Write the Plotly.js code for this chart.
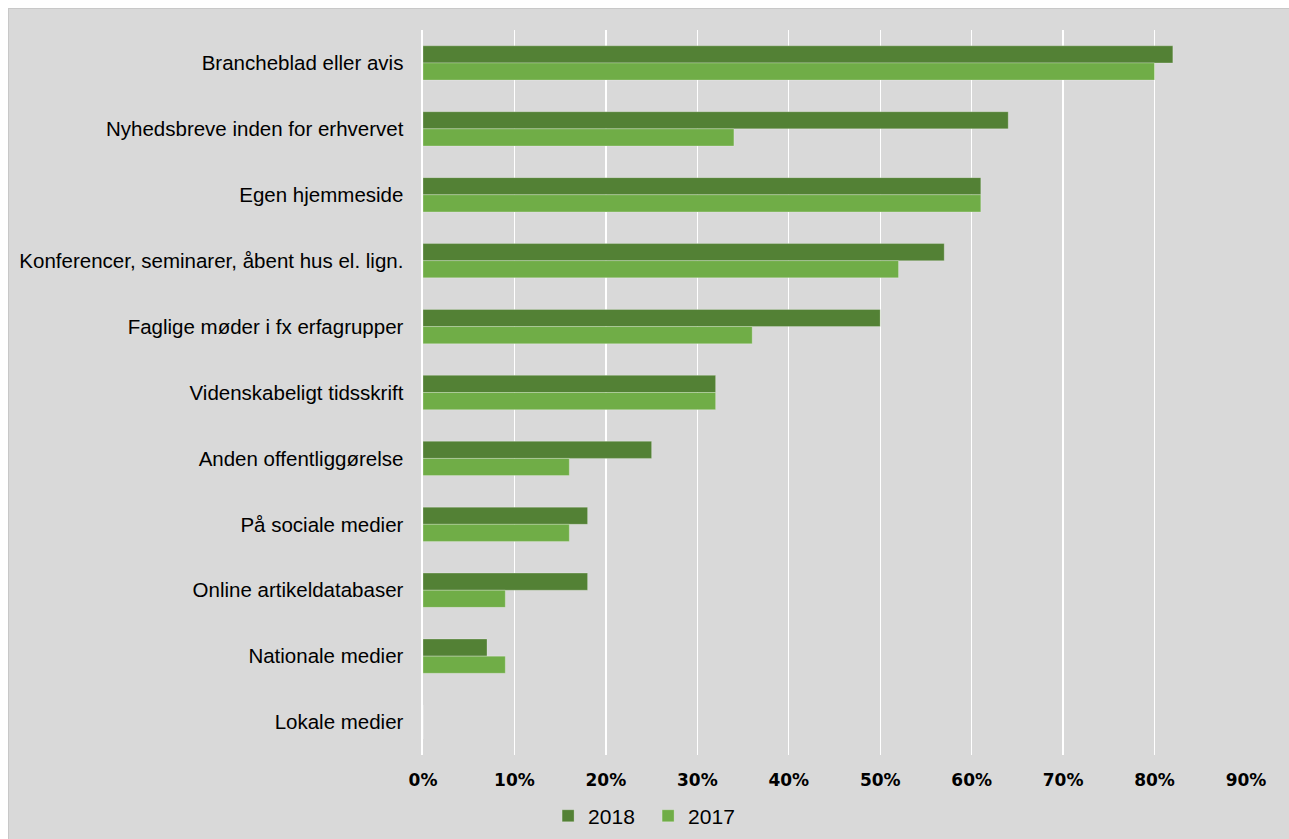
<!DOCTYPE html>
<html>
<head>
<meta charset="utf-8">
<script src="https://cdn.plot.ly/plotly-3.0.1.min.js"></script>
<style>
html,body{margin:0;padding:0;background:#ffffff;}
#chart{position:absolute;left:8px;top:8px;width:1281px;height:831px;border-top:1px solid #c8c8c8;border-left:1px solid #c8c8c8;box-sizing:border-box;}
</style>
</head>
<body>
<div id="chart"></div>
<script>
const categories = [
  "Brancheblad eller avis",
  "Nyhedsbreve inden for erhvervet",
  "Egen hjemmeside",
  "Konferencer, seminarer, åbent hus el. lign.",
  "Faglige møder i fx erfagrupper",
  "Videnskabeligt tidsskrift",
  "Anden offentliggørelse",
  "På sociale medier",
  "Online artikeldatabaser",
  "Nationale medier",
  "Lokale medier"
];
const values2018 = [0.82, 0.64, 0.61, 0.57, 0.50, 0.32, 0.25, 0.18, 0.18, 0.07, 0.00];
const values2017 = [0.80, 0.34, 0.61, 0.52, 0.36, 0.32, 0.16, 0.16, 0.09, 0.09, 0.00];
const xTickVals = [0, 0.1, 0.2, 0.3, 0.4, 0.5, 0.6, 0.7, 0.8, 0.9];
const xTickText = ["0%", "10%", "20%", "30%", "40%", "50%", "60%", "70%", "80%", "90%"];

const traces = [
  {type: "bar", orientation: "h", name: "2018", y: categories, x: values2018,
   marker: {color: "#538135", line: {color: "rgba(255,255,255,0.25)", width: 1}}, hoverinfo: "x+y"},
  {type: "bar", orientation: "h", name: "2017", y: categories, x: values2017,
   marker: {color: "#70ad47", line: {color: "rgba(255,255,255,0.25)", width: 1}}, hoverinfo: "x+y"}
];

const layout = {
  width: 1280, height: 830,
  paper_bgcolor: "#d9d9d9",
  plot_bgcolor: "#d9d9d9",
  margin: {l: 414, r: 43, t: 21, b: 84, autoexpand: false},
  barmode: "group",
  bargap: 0.48,
  bargroupgap: 0,
  showlegend: true,
  legend: {orientation: "h", x: 0.152, y: -0.056, xanchor: "left", yanchor: "top",
           font: {family: "Liberation Sans Narrow, Liberation Sans, Arial", size: 21, color: "#000"},
           traceorder: "normal", itemwidth: 30, entrywidth: 55, entrywidthmode: "pixels",
           bgcolor: "rgba(0,0,0,0)"},
  xaxis: {range: [0, 0.9], tickvals: xTickVals, ticktext: xTickText,
          showgrid: true, gridcolor: "#ffffff", gridwidth: 1.3,
          zeroline: false, showline: false,
          ticks: "outside", ticklen: 10, tickcolor: "rgba(0,0,0,0)",
          tickfont: {family: "DejaVu Sans, Verdana", size: 17, color: "#000", weight: "bold"},
          fixedrange: true},
  yaxis: {type: "category", autorange: "reversed", showgrid: false, zeroline: false,
          showline: true, linecolor: "#ffffff", linewidth: 2.5,
          ticks: "outside", ticklen: 13, tickcolor: "rgba(0,0,0,0)",
          tickfont: {family: "Liberation Sans, Arial", size: 20.5, color: "#000"},
          fixedrange: true}
};

Plotly.newPlot("chart", traces, layout, {displayModeBar: false, staticPlot: true});
</script>
</body>
</html>
